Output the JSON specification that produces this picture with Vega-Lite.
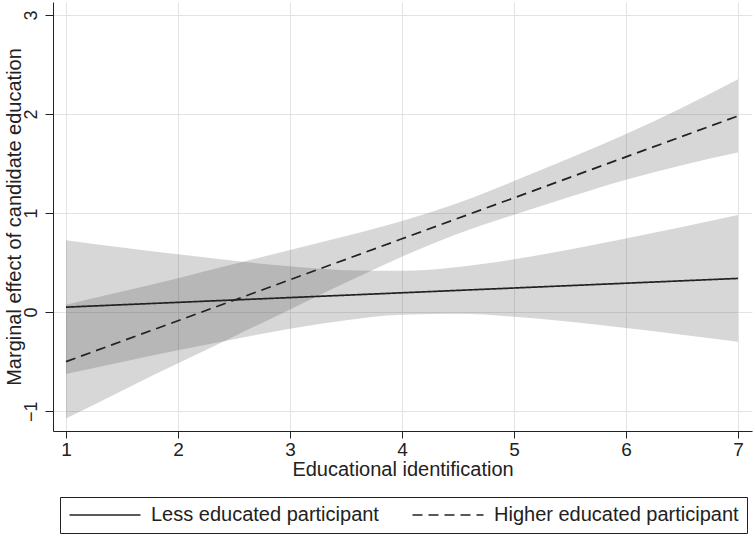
{
  "$schema": "https://vega.github.io/schema/vega-lite/v6.json",
  "autosize": {"type": "none"},
  "width": 699,
  "height": 429,
  "padding": {"left": 53, "top": 2, "right": 3, "bottom": 105},
  "background": "white",
  "config": {
    "view": {"stroke": null},
    "font": "Liberation Sans"
  },
  "data": {
    "values": [
      {"group": "Less educated participant", "x": 1, "est": 0.05, "lo": -0.625, "hi": 0.725},
      {"group": "Less educated participant", "x": 1.5, "est": 0.0742, "lo": -0.504, "hi": 0.652},
      {"group": "Less educated participant", "x": 2, "est": 0.0983, "lo": -0.386, "hi": 0.583},
      {"group": "Less educated participant", "x": 2.5, "est": 0.1225, "lo": -0.273, "hi": 0.518},
      {"group": "Less educated participant", "x": 3, "est": 0.1467, "lo": -0.168, "hi": 0.462},
      {"group": "Less educated participant", "x": 3.5, "est": 0.1708, "lo": -0.081, "hi": 0.423},
      {"group": "Less educated participant", "x": 4, "est": 0.195, "lo": -0.027, "hi": 0.417},
      {"group": "Less educated participant", "x": 4.5, "est": 0.2192, "lo": -0.017, "hi": 0.456},
      {"group": "Less educated participant", "x": 5, "est": 0.2433, "lo": -0.047, "hi": 0.533},
      {"group": "Less educated participant", "x": 5.5, "est": 0.2675, "lo": -0.098, "hi": 0.633},
      {"group": "Less educated participant", "x": 6, "est": 0.2917, "lo": -0.16, "hi": 0.744},
      {"group": "Less educated participant", "x": 6.5, "est": 0.3158, "lo": -0.228, "hi": 0.86},
      {"group": "Less educated participant", "x": 7, "est": 0.34, "lo": -0.3, "hi": 0.98},
      {"group": "Higher educated participant", "x": 1, "est": -0.5, "lo": -1.075, "hi": 0.075},
      {"group": "Higher educated participant", "x": 1.5, "est": -0.293, "lo": -0.793, "hi": 0.207},
      {"group": "Higher educated participant", "x": 2, "est": -0.087, "lo": -0.517, "hi": 0.343},
      {"group": "Higher educated participant", "x": 2.5, "est": 0.12, "lo": -0.245, "hi": 0.485},
      {"group": "Higher educated participant", "x": 3, "est": 0.327, "lo": 0.027, "hi": 0.627},
      {"group": "Higher educated participant", "x": 3.5, "est": 0.533, "lo": 0.298, "hi": 0.768},
      {"group": "Higher educated participant", "x": 4, "est": 0.74, "lo": 0.56, "hi": 0.92},
      {"group": "Higher educated participant", "x": 4.5, "est": 0.947, "lo": 0.792, "hi": 1.102},
      {"group": "Higher educated participant", "x": 5, "est": 1.153, "lo": 0.983, "hi": 1.323},
      {"group": "Higher educated participant", "x": 5.5, "est": 1.36, "lo": 1.165, "hi": 1.555},
      {"group": "Higher educated participant", "x": 6, "est": 1.567, "lo": 1.337, "hi": 1.797},
      {"group": "Higher educated participant", "x": 6.5, "est": 1.773, "lo": 1.483, "hi": 2.063},
      {"group": "Higher educated participant", "x": 7, "est": 1.98, "lo": 1.61, "hi": 2.35}
    ]
  },
  "encoding": {
    "x": {
      "field": "x", "type": "quantitative",
      "scale": {"domain": [0.884, 7.125], "nice": false, "zero": false},
      "axis": {
        "title": "Educational identification",
        "values": [1, 2, 3, 4, 5, 6, 7],
        "format": "d",
        "grid": true, "gridColor": "#e3e3e3", "gridWidth": 1,
        "domainColor": "#222", "domainWidth": 1,
        "tickColor": "#222", "tickSize": 7,
        "labelFont": "Liberation Sans", "labelFontSize": 19, "labelColor": "#222", "labelPadding": 2,
        "titleFont": "Liberation Sans", "titleFontSize": 20, "titleFontWeight": "normal", "titleColor": "#222", "titlePadding": 0
      }
    }
  },
  "layer": [
    {
      "mark": {"type": "area", "fill": "#484848", "opacity": 0.22, "interpolate": "monotone"},
      "encoding": {
        "y": {
          "field": "lo", "type": "quantitative",
          "scale": {"domain": [-1.2, 3.13], "nice": false, "zero": false},
          "axis": {
            "title": "Marginal effect of candidate education",
            "values": [-1, 0, 1, 2, 3],
            "format": "d",
            "grid": true, "gridColor": "#e3e3e3", "gridWidth": 1,
            "domainColor": "#222", "domainWidth": 1,
            "tickColor": "#222", "tickSize": 8,
            "labelAngle": -90, "labelAlign": "center", "labelBaseline": "bottom", "labelPadding": 5,
            "labelFont": "Liberation Sans", "labelFontSize": 18, "labelColor": "#222",
            "titleFont": "Liberation Sans", "titleFontSize": 20, "titleFontWeight": "normal", "titleColor": "#222", "titlePadding": -2
          }
        },
        "y2": {"field": "hi"},
        "detail": {"field": "group"}
      }
    },
    {
      "mark": {"type": "line", "color": "#222", "strokeWidth": 1.7, "interpolate": "linear"},
      "encoding": {
        "y": {"field": "est", "type": "quantitative"},
        "strokeDash": {
          "field": "group", "type": "nominal",
          "scale": {
            "domain": ["Less educated participant", "Higher educated participant"],
            "range": [[1, 0], [10, 6]]
          },
          "legend": {
            "title": null,
            "orient": "none",
            "legendX": 7,
            "legendY": 495,
            "direction": "horizontal",
            "columns": 2,
            "columnPadding": 30,
            "symbolType": "M-4,0H4",
            "symbolSize": 315,
            "symbolOffset": 27,
            "symbolStrokeWidth": 1.7,
            "symbolStrokeColor": "#222",
            "labelFont": "Liberation Sans",
            "labelFontSize": 20,
            "labelColor": "#222",
            "labelOffset": 36,
            "labelLimit": 400,
            "strokeColor": "#222",
            "padding": 8
          }
        }
      }
    }
  ]
}
